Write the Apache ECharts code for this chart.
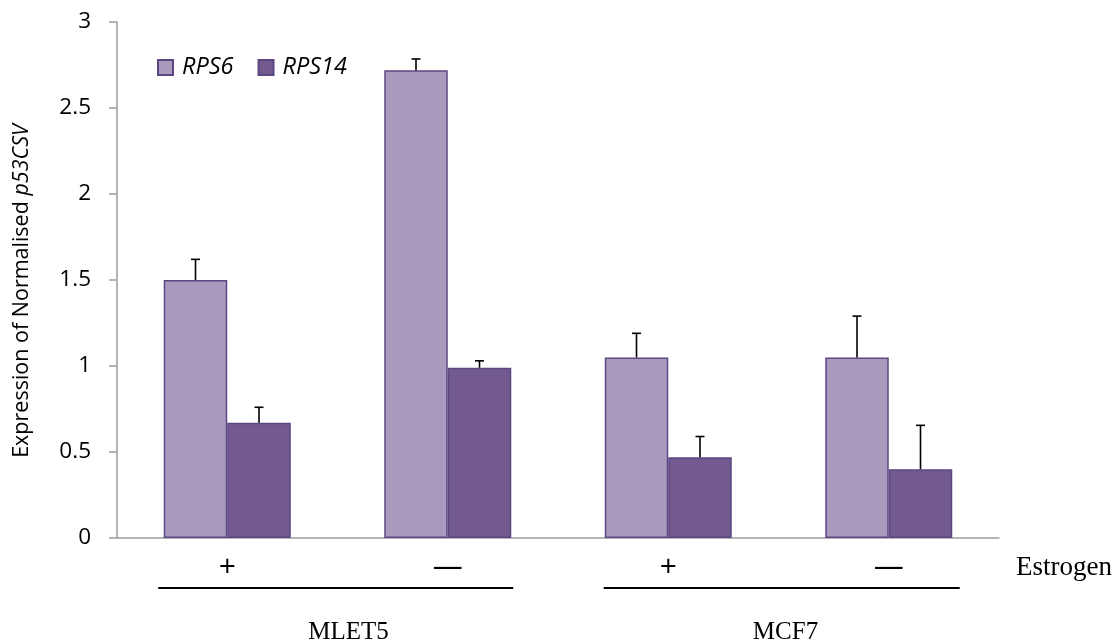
<!DOCTYPE html>
<html>
<head>
<meta charset="utf-8">
<script src="https://cdn.jsdelivr.net/npm/echarts@6/dist/echarts.min.js"></script>
<style>
html,body{margin:0;padding:0;background:#fff;}
#chart{width:1120px;height:643px;}
</style>
</head>
<body>
<div id="chart"></div>
<script>
// ---- data ----
const cellLines = ['MLET5', 'MCF7'];
const estrogen = ['+', '—', '+', '—'];
const seriesNames = ['RPS6', 'RPS14'];
const rps6 = [1.50, 2.72, 1.05, 1.05];
const rps14 = [0.67, 0.99, 0.47, 0.40];
const rps6Err = [0.12, 0.065, 0.14, 0.24];
const rps14Err = [0.09, 0.04, 0.12, 0.255];
const yMin = 0, yMax = 3, yStep = 0.5;

// ---- styles ----
const C6 = '#a99bbe', C14 = '#725a8f', BORDER = '#5c4782', AXIS = '#9d9d9d';
const BAR_W = 63.5;
const SANS = '"Open Sans", sans-serif';
const SERIF = '"Liberation Serif", serif';

const chart = echarts.init(document.getElementById('chart'), null, {renderer: 'canvas'});

function errSeries(vals, errs, side) {
  return {
    type: 'custom', z: 5, silent: true,
    data: vals.map((v, i) => [i, v, errs[i]]),
    renderItem: (params, api) => {
      const base = api.coord([api.value(0), api.value(1)]);
      const top = api.coord([api.value(0), api.value(1) + api.value(2)]);
      const x = base[0] + side * BAR_W / 2;
      const style = {stroke: '#000', lineWidth: 1.6};
      return {type: 'group', children: [
        {type: 'line', shape: {x1: x, y1: base[1], x2: x, y2: top[1]}, style},
        {type: 'line', shape: {x1: x - 4.5, y1: top[1], x2: x + 4.5, y2: top[1]}, style}
      ]};
    }
  };
}

function barSeries(name, vals, color) {
  return {
    name: name, type: 'bar', data: vals, barWidth: BAR_W, barGap: '0%',
    itemStyle: {color: color, borderColor: BORDER, borderWidth: 1.5}
  };
}

const option = {
  backgroundColor: '#fff',
  animation: false,
  grid: {left: 117, width: 882, top: 22, bottom: 105, outerBoundsMode: 'none'},
  legend: {
    data: seriesNames, left: 157, top: 54, padding: 0,
    itemWidth: 15, itemHeight: 15, itemGap: 24, icon: 'rect',
    textStyle: {fontFamily: SANS, fontSize: 23.5, fontStyle: 'italic', color: '#000', lineHeight: 27, padding: [0, 0, 0, 4]}
  },
  xAxis: {
    type: 'category', data: estrogen,
    axisLine: {show: true, lineStyle: {color: AXIS, width: 1.5}},
    axisTick: {show: false},
    axisLabel: {
      interval: 0, margin: 14, color: '#000',
      formatter: v => v === '+' ? '{p|+}' : '{d|—}',
      rich: {
        p: {fontSize: 30, fontFamily: SANS, color: '#000', lineHeight: 30},
        d: {fontSize: 30, fontFamily: SANS, color: '#000', lineHeight: 30}
      }
    }
  },
  yAxis: {
    type: 'value', min: yMin, max: yMax, interval: yStep, splitLine: {show: false},
    axisLine: {show: true, lineStyle: {color: AXIS, width: 1.5}},
    axisTick: {show: true, length: 8, lineStyle: {color: AXIS, width: 1.5}},
    axisLabel: {margin: 26, fontFamily: SANS, fontSize: 22.5, color: '#000'},
    name: '{n|Expression of Normalised }{i|p53CSV}',
    nameLocation: 'middle', nameGap: 84,
    nameTextStyle: {
      padding: [0, 22, 0, 0],
      rich: {
        n: {fontFamily: SANS, fontSize: 21.5, color: '#000'},
        i: {fontFamily: SANS, fontSize: 21.5, color: '#000', fontStyle: 'italic'}
      }
    }
  },
  series: [
    barSeries(seriesNames[0], rps6, C6),
    barSeries(seriesNames[1], rps14, C14),
    errSeries(rps6, rps6Err, -1),
    errSeries(rps14, rps14Err, 1)
  ]
};
chart.setOption(option);

// ---- decorations placed from the axes ----
const y0 = chart.convertToPixel({yAxisIndex: 0}, 0);
const cx = estrogen.map((_, i) => chart.convertToPixel({xAxisIndex: 0}, i));
const cw = cx[1] - cx[0];
const axisEnd = cx[3] + cw / 2;
const ulY = y0 + 50;
chart.setOption({
  graphic: [
    {type: 'line', shape: {x1: cx[0] - 69, y1: ulY, x2: cx[1] + 65.5, y2: ulY},
      style: {stroke: '#000', lineWidth: 2}},
    {type: 'line', shape: {x1: cx[2] - 64.5, y1: ulY, x2: cx[3] + 71, y2: ulY},
      style: {stroke: '#000', lineWidth: 2}},
    {type: 'text', x: axisEnd + 17, y: y0 + 30,
      style: {text: 'Estrogen', font: '27px "Liberation Serif", serif', fill: '#000', align: 'left', verticalAlign: 'middle'}},
    {type: 'text', x: (cx[0] + cx[1]) / 2 + 11, y: y0 + 94,
      style: {text: cellLines[0], font: '25px "Liberation Serif", serif', fill: '#000', align: 'center', verticalAlign: 'middle'}},
    {type: 'text', x: (cx[2] + cx[3]) / 2 + 7, y: y0 + 94,
      style: {text: cellLines[1], font: '25px "Liberation Serif", serif', fill: '#000', align: 'center', verticalAlign: 'middle'}}
  ]
});
</script>
</body>
</html>
